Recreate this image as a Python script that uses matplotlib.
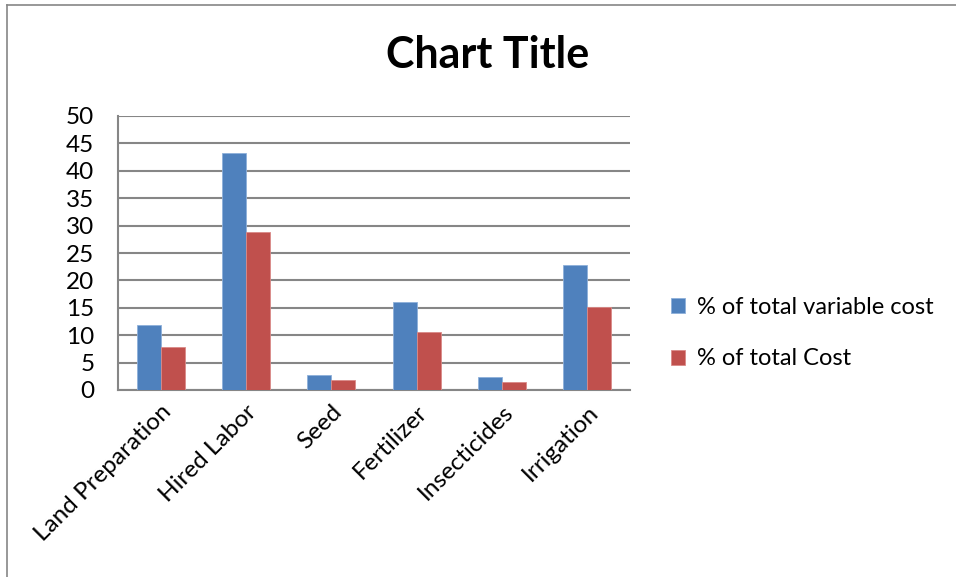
import matplotlib
matplotlib.use("Agg")
import matplotlib.pyplot as plt
import numpy as np
from matplotlib.lines import Line2D

plt.rcParams['font.family'] = ['Lato', 'DejaVu Sans']

# Postes de coûts et leurs parts (%)
categories = ["Land Preparation", "Hired Labor", "Seed", "Fertilizer",
              "Insecticides", "Irrigation"]
part_cout_variable = [11.8, 43.2, 2.7, 16.0, 2.3, 22.9]
part_cout_total = [7.8, 28.8, 1.8, 10.6, 1.5, 15.2]
noms_series = ["% of total variable cost", "% of total Cost"]

gris = "#868686"

fig = plt.figure(figsize=(9.56, 5.77), dpi=100)
ax = fig.add_axes([118 / 956, 1 - 390 / 577, 512 / 956, 274 / 577])

x = np.arange(len(categories))
largeur = 0.28
ax.bar(x - largeur / 2, part_cout_variable, largeur, color="#4F81BD",
       edgecolor="#8EB0DA", linewidth=0.6, label=noms_series[0], zorder=3)
ax.bar(x + largeur / 2, part_cout_total, largeur, color="#C0504D",
       edgecolor="#DA8A88", linewidth=0.6, label=noms_series[1], zorder=3)

ax.set_xlim(-0.5, len(categories) - 0.5)
ax.set_ylim(0, 50)
ax.set_yticks(range(0, 51, 5))
ax.yaxis.grid(True, color=gris, linewidth=1.5)
ax.set_axisbelow(True)

for cote in ["top", "right"]:
    ax.spines[cote].set_visible(False)
for cote in ["left", "bottom"]:
    ax.spines[cote].set_color(gris)
    ax.spines[cote].set_linewidth(1.5)

ax.tick_params(axis="y", length=0, pad=17, labelsize=17.5)
ax.tick_params(axis="x", length=0, pad=8, labelsize=17.5)
ax.set_xticks(x)
ax.set_xticklabels(categories, rotation=45, ha="right", va="top",
                   rotation_mode="anchor")

fig.text(488 / 956, 1 - 55 / 577, "Chart Title", ha="center", va="center",
         fontsize=31, fontweight="bold")

fig.legend(loc="center left", bbox_to_anchor=(650 / 956, 1 - 333 / 577),
           frameon=False, fontsize=17, handlelength=0.6, handleheight=0.6,
           handletextpad=0.5, labelspacing=1.3)

# cadre du graphique
fig.add_artist(Line2D([7 / 956, 7 / 956], [0, 1 - 5 / 577], color=gris,
                      linewidth=1.2, transform=fig.transFigure))
fig.add_artist(Line2D([7 / 956, 1], [1 - 5 / 577, 1 - 5 / 577], color=gris,
                      linewidth=1.2, transform=fig.transFigure))

fig.savefig("out.png", dpi=100)
